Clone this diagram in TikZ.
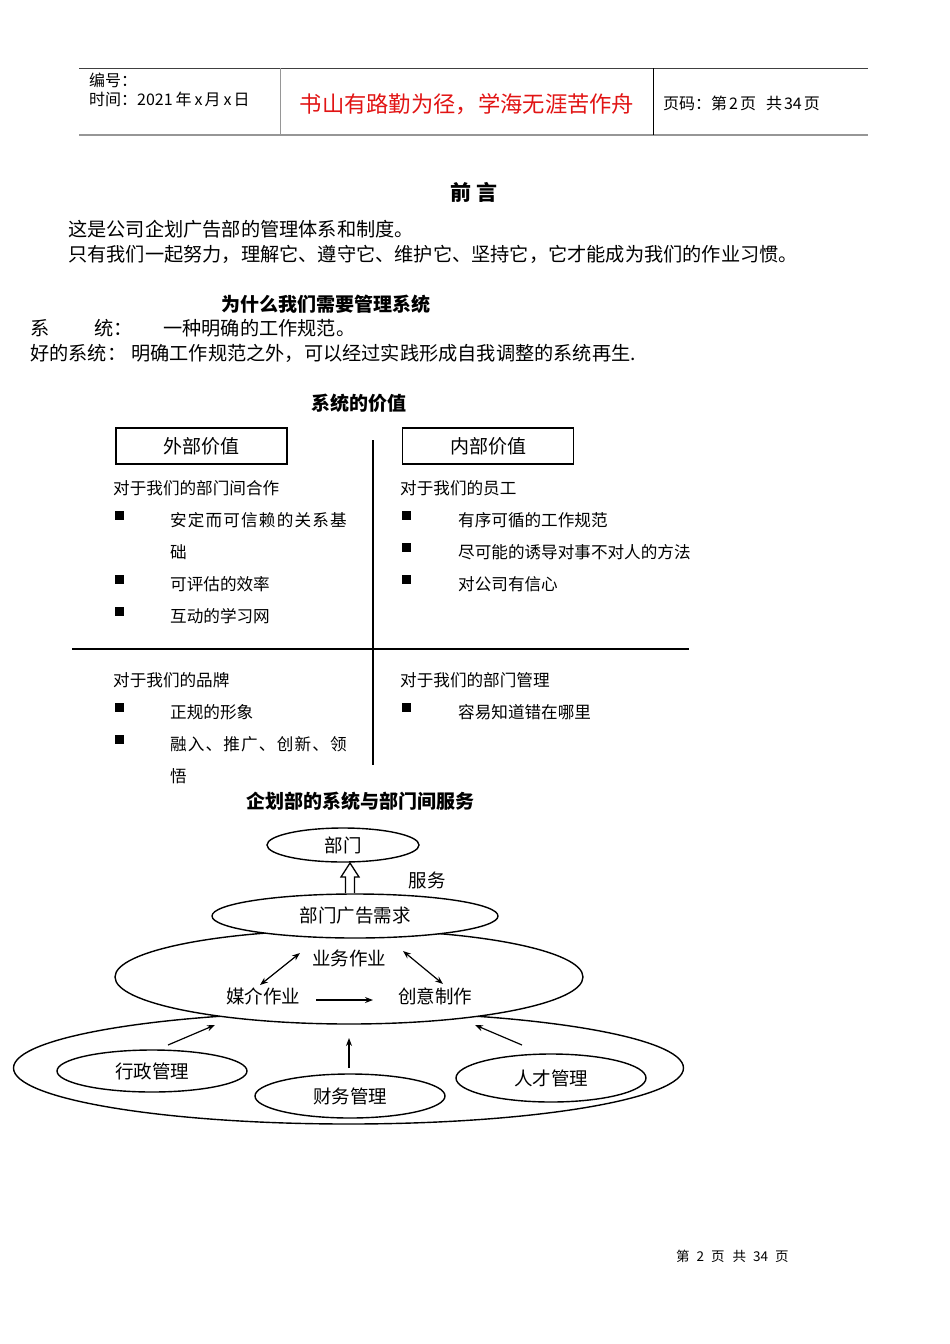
\documentclass[tikz,border=0pt]{standalone}
\usepackage{fontspec}
\setmainfont{Noto Sans CJK SC}
\newfontfamily\spreadfont[LetterSpace=7]{Noto Sans CJK SC}
\usetikzlibrary{shapes.geometric,arrows.meta}
\definecolor{hdrred}{RGB}{225,20,20}
\definecolor{hdrgray}{RGB}{150,150,150}
\begin{document}
\begin{tikzpicture}[x=1pt,y=-1pt,
  txt/.style={anchor=west,inner sep=0pt,font=\fontsize{19.2}{22}\selectfont},
  qtxt/.style={anchor=west,inner sep=0pt,font=\fontsize{16.6}{19}\selectfont},
  stxt/.style={anchor=west,inner sep=0pt,font=\spreadfont\fontsize{16.6}{19}\selectfont},
  htxt/.style={anchor=west,inner sep=0pt,font=\fontsize{16}{18}\selectfont},
  ttl/.style={inner sep=0pt,font=\fontsize{19}{22}\selectfont\bfseries},
  bul/.style={fill=black,inner sep=0pt,minimum size=9pt,draw=none},
  vbox/.style={draw,line width=1.4pt,minimum width=171pt,minimum height=36pt,inner sep=0pt,font=\fontsize{19}{22}\selectfont},
  ell/.style={ellipse,draw,line width=1.4pt,fill=white,inner sep=0pt,font=\fontsize{18.5}{22}\selectfont},
  arr/.style={line width=1.2pt,-{Stealth[length=8pt,width=6pt]}},
  darr/.style={line width=1.2pt,{Stealth[length=8pt,width=6pt]}-{Stealth[length=8pt,width=6pt]}}
]
\useasboundingbox (0,0) rectangle (950,1344);
% header
\draw[line width=0.9pt,black!75] (79,68) -- (868,68);
\draw[line width=2pt,hdrgray] (79,135) -- (868,135);
\draw[line width=1pt,hdrgray] (280,68) -- (280,135);
\draw[line width=1pt,black] (653,68) -- (653,135);
\node[htxt] (hnum) at (89,80) {编号：};
\node[htxt] (htime) at (89,99) {时间：2021\hspace{3pt}年\hspace{3pt}x\hspace{2pt}月\hspace{3pt}x\hspace{2pt}日};
\node[inner sep=0pt,font=\fontsize{22.3}{25}\selectfont,text=hdrred] (hmotto) at (467,104) {书山有路勤为径，学海无涯苦作舟};
\node[htxt] (hpage) at (663,103) {页码：第\hspace{2pt}2\hspace{2pt}页\hspace{10pt}共\hspace{2pt}34\hspace{2pt}页};
% preface
\node[ttl,font=\fontsize{21}{24}\selectfont\bfseries] (pref) at (474,192) {前\ 言};
\node[txt] (p1) at (68,229) {这是公司企划广告部的管理体系和制度。};
\node[txt] (p2) at (68,254) {只有我们一起努力，理解它、遵守它、维护它、坚持它，它才能成为我们的作业习惯。};
\node[ttl] (why) at (326,304) {为什么我们需要管理系统};
\node[txt] (s1a) at (30,328) {系};
\node[txt] (s1b) at (94,328) {统：};
\node[txt] (s1c) at (163,328) {一种明确的工作规范。};
\node[txt] (s2a) at (30,353) {好的系统：};
\node[txt] (s2b) at (131,353) {明确工作规范之外，可以经过实践形成自我调整的系统再生.};
% value
\node[ttl] (val) at (359,403) {系统的价值};
\node[vbox] (ext) at (201.5,446) {外部价值};
\node[vbox] (int) at (488,446) {内部价值};
\draw[line width=1.4pt] (373,440) -- (373,765);
\draw[line width=1.6pt] (72,649) -- (689,649);
% top-left
\node[qtxt] (tl0) at (113,488) {对于我们的部门间合作};
\node[bul] (b1) at (119.5,515.5) {};
\node[stxt] (tl1) at (170,520) {安定而可信赖的关系基};
\node[qtxt] (tl1b) at (170,552) {础};
\node[bul] (b2) at (119.5,579.5) {};
\node[qtxt] (tl2) at (170,584) {可评估的效率};
\node[bul] (b3) at (119.5,611.5) {};
\node[qtxt] (tl3) at (170,616) {互动的学习网};
% top-right
\node[qtxt] (tr0) at (400,488) {对于我们的员工};
\node[bul] (b4) at (406.5,515.5) {};
\node[qtxt] (tr1) at (458,520) {有序可循的工作规范};
\node[bul] (b5) at (406.5,547.5) {};
\node[qtxt] (tr2) at (458,552) {尽可能的诱导对事不对人的方法};
\node[bul] (b6) at (406.5,579.5) {};
\node[qtxt] (tr3) at (458,584) {对公司有信心};
% bottom-left
\node[qtxt] (bl0) at (113,680) {对于我们的品牌};
\node[bul] (b7) at (119.5,707.5) {};
\node[qtxt] (bl1) at (170,712) {正规的形象};
\node[bul] (b8) at (119.5,739.5) {};
\node[stxt] (bl2) at (170,744) {融入、推广、创新、领};
\node[qtxt] (bl2b) at (170,776) {悟};
% bottom-right
\node[qtxt] (br0) at (400,680) {对于我们的部门管理};
\node[bul] (b9) at (406.5,707.5) {};
\node[qtxt] (br1) at (458,712) {容易知道错在哪里};
% diagram
\node[ttl] (svc) at (360,801) {企划部的系统与部门间服务};
\node[ell,minimum width=670pt,minimum height=112pt] (outer) at (348.5,1068) {};
\node[ell,minimum width=468pt,minimum height=94pt] (mid) at (349,977) {};
\node[ell,minimum width=286pt,minimum height=44pt] (req) at (355,916) {部门广告需求};
\node[ell,minimum width=152pt,minimum height=34pt] (dept) at (343,845) {部门};
\draw[line width=1.3pt,fill=white] (345.5,893) -- (345.5,877) -- (341,877) -- (350,863) -- (359,877) -- (354.5,877) -- (354.5,893);
\node[inner sep=0pt,font=\fontsize{18.5}{22}\selectfont] (fw) at (427,880) {服务};
\node[inner sep=1pt,font=\fontsize{18.5}{22}\selectfont] (yw) at (349,958) {业务作业};
\node[inner sep=1pt,font=\fontsize{18.5}{22}\selectfont] (mj) at (263,996) {媒介作业};
\node[inner sep=1pt,font=\fontsize{18.5}{22}\selectfont] (cy) at (435,996) {创意制作};
\coordinate (a1) at (260,985); \coordinate (a2) at (300,953);
\coordinate (a3) at (403,951); \coordinate (a4) at (443,984);
\coordinate (a5) at (316,1000); \coordinate (a6) at (373,1000);
\draw[darr] (a1) -- (a2);
\draw[darr] (a3) -- (a4);
\draw[arr] (a5) -- (a6);
\node[ell,minimum width=190pt,minimum height=42pt] (xz) at (152,1071) {行政管理};
\node[ell,minimum width=190pt,minimum height=44pt] (cw) at (350,1096) {财务管理};
\node[ell,minimum width=190pt,minimum height=48pt] (rc) at (551,1078) {人才管理};
\coordinate (c1) at (168,1045); \coordinate (c2) at (215,1025);
\coordinate (c3) at (349,1068); \coordinate (c4) at (349,1038);
\coordinate (c5) at (522,1045); \coordinate (c6) at (475,1025);
\draw[arr] (c1) -- (c2);
\draw[arr] (c3) -- (c4);
\draw[arr] (c5) -- (c6);
% footer
\node[anchor=west,inner sep=0pt,font=\fontsize{13.5}{15}\selectfont] (foot) at (676,1256) {第\hspace{7pt}2\hspace{7pt}页\hspace{8pt}共\hspace{7pt}34\hspace{7pt}页};
\end{tikzpicture}
\end{document}
